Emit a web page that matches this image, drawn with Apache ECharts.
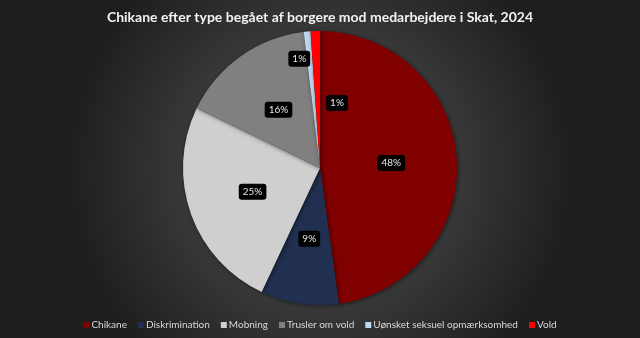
<!DOCTYPE html>
<html><head><meta charset="utf-8">
<script src="https://cdn.jsdelivr.net/npm/echarts@6/dist/echarts.min.js"></script>
<style>html,body{margin:0;padding:0;background:#333}#c{width:640px;height:338px}</style>
</head><body><div id="c"></div>
<script>
const titleText = 'Chikane efter type begået af borgere mod medarbejdere i Skat, 2024';
const categories = ['Chikane', 'Diskrimination', 'Mobning', 'Trusler om vold', 'Uønsket seksuel opmærksomhed', 'Vold'];
const values = [47.8, 9.2, 25.2, 15.9, 0.8, 1.1];
const colors = ['#800000', '#213050', '#cfcfcf', '#808080', '#bdd7ee', '#ff0000'];

const total = values.reduce((a, b) => a + b, 0);
const chart = echarts.init(document.getElementById('c'), null, {renderer: 'canvas'});
const data = categories.map((name, i) => {
  const d = {name, value: values[i], itemStyle: {color: colors[i]}};
  if (i === 4) d.label = {offset: [-14, -38]};
  if (i === 5) {
    d.label = {position: 'outside'};
    d.labelLine = {show: true, length: 4, length2: 4, lineStyle: {color: '#a6a6a6', width: 1}};
  }
  return d;
});
chart.setOption({
  backgroundColor: {
    type: 'radial', x: 0.5, y: 0.5, r: 0.75,
    colorStops: [{offset: 0, color: '#575757'}, {offset: 1, color: '#1e1e1e'}]
  },
  title: {
    text: titleText, left: 'center', top: 5,
    textStyle: {color: '#f2f2f2', fontSize: 14, fontWeight: 'bold', fontFamily: 'Lato'}
  },
  legend: {
    top: 315, left: 'center', itemWidth: 6, itemHeight: 6, itemGap: 11,
    icon: 'rect',
    textStyle: {color: '#d9d9d9', fontSize: 10, fontFamily: 'Lato', padding: [0, 0, 0, -3]},
    data: categories
  },
  series: [{
    type: 'pie', center: [320, 168], radius: 137, startAngle: 90, clockwise: true,
    animation: false,
    itemStyle: {shadowBlur: 4, shadowColor: 'rgba(0,0,0,0.5)', shadowOffsetX: 1, shadowOffsetY: 1},
    label: {
      position: 'inside',
      formatter: p => Math.round(p.value / total * 100) + '%',
      color: '#e6e6e6', fontSize: 10, fontFamily: 'Lato',
      backgroundColor: '#000', borderRadius: 3, padding: [3, 4]
    },
    labelLine: {show: false},
    labelLayout: p => p.dataIndex === 5 ? {x: 337, y: 103, align: 'center', verticalAlign: 'middle'} : {},
    data
  }]
});
</script></body></html>
